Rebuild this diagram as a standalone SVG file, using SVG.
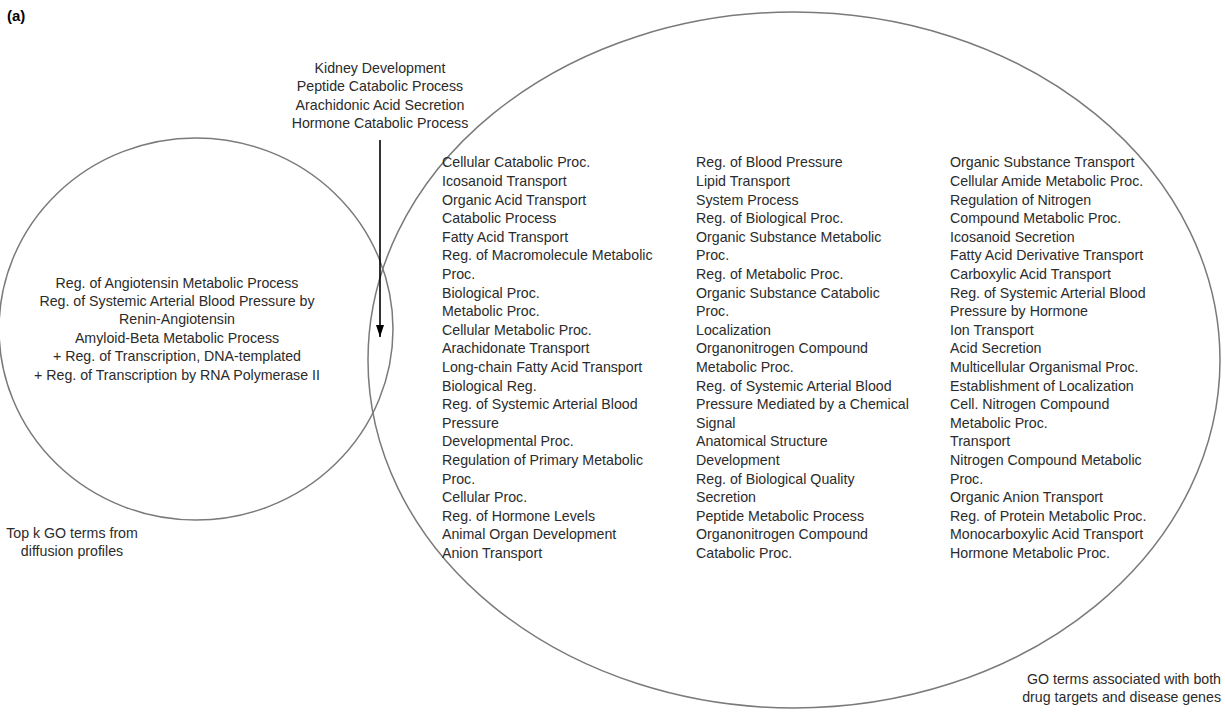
<svg xmlns="http://www.w3.org/2000/svg" width="1225" height="713" viewBox="0 0 1225 713">
<style>
text{font-family:"Liberation Sans",Arial,sans-serif;font-size:14.2px;fill:#2b2b2b}
.c{text-anchor:middle}
.r{text-anchor:end}
.set{fill:none;stroke:#7a7a7a;stroke-width:1.5}
</style>
<defs>
<marker id="ah" viewBox="0 0 12 8" refX="12" refY="4" markerWidth="12" markerHeight="8" markerUnits="userSpaceOnUse" orient="auto">
<path d="M0,0 L12,4 L0,8 z" fill="#000"/>
</marker>
</defs>
<rect width="1225" height="713" fill="#fff"/>
<text x="7" y="21" style="font-weight:bold;font-size:15px;fill:#000">(a)</text>
<g id="set-diffusion">
<ellipse class="set" cx="196" cy="329" rx="197" ry="191"/>
<text class="c" x="177"><tspan x="177" y="287.5">Reg. of Angiotensin Metabolic Process</tspan><tspan x="177" y="305.9">Reg. of Systemic Arterial Blood Pressure by</tspan><tspan x="177" y="324.3">Renin-Angiotensin</tspan><tspan x="177" y="342.7">Amyloid-Beta Metabolic Process</tspan><tspan x="177" y="361.1">+ Reg. of Transcription, DNA-templated</tspan><tspan x="177" y="379.5">+ Reg. of Transcription by RNA Polymerase II</tspan></text>
<text class="c" x="72"><tspan x="72" y="538">Top k GO terms from</tspan><tspan x="72" y="556">diffusion profiles</tspan></text>
</g>
<g id="set-targets">
<ellipse class="set" cx="794" cy="360" rx="426" ry="348"/>
<text x="442"><tspan x="442" y="167.4">Cellular Catabolic Proc.</tspan><tspan x="442" y="186">Icosanoid Transport</tspan><tspan x="442" y="204.6">Organic Acid Transport</tspan><tspan x="442" y="223.2">Catabolic Process</tspan><tspan x="442" y="241.8">Fatty Acid Transport</tspan><tspan x="442" y="260.4">Reg. of Macromolecule Metabolic</tspan><tspan x="442" y="279">Proc.</tspan><tspan x="442" y="297.6">Biological Proc.</tspan><tspan x="442" y="316.2">Metabolic Proc.</tspan><tspan x="442" y="334.8">Cellular Metabolic Proc.</tspan><tspan x="442" y="353.4">Arachidonate Transport</tspan><tspan x="442" y="372">Long-chain Fatty Acid Transport</tspan><tspan x="442" y="390.6">Biological Reg.</tspan><tspan x="442" y="409.2">Reg. of Systemic Arterial Blood</tspan><tspan x="442" y="427.8">Pressure</tspan><tspan x="442" y="446.4">Developmental Proc.</tspan><tspan x="442" y="465">Regulation of Primary Metabolic</tspan><tspan x="442" y="483.6">Proc.</tspan><tspan x="442" y="502.2">Cellular Proc.</tspan><tspan x="442" y="520.8">Reg. of Hormone Levels</tspan><tspan x="442" y="539.4">Animal Organ Development</tspan><tspan x="442" y="558">Anion Transport</tspan></text>
<text x="696"><tspan x="696" y="167.4">Reg. of Blood Pressure</tspan><tspan x="696" y="186">Lipid Transport</tspan><tspan x="696" y="204.6">System Process</tspan><tspan x="696" y="223.2">Reg. of Biological Proc.</tspan><tspan x="696" y="241.8">Organic Substance Metabolic</tspan><tspan x="696" y="260.4">Proc.</tspan><tspan x="696" y="279">Reg. of Metabolic Proc.</tspan><tspan x="696" y="297.6">Organic Substance Catabolic</tspan><tspan x="696" y="316.2">Proc.</tspan><tspan x="696" y="334.8">Localization</tspan><tspan x="696" y="353.4">Organonitrogen Compound</tspan><tspan x="696" y="372">Metabolic Proc.</tspan><tspan x="696" y="390.6">Reg. of Systemic Arterial Blood</tspan><tspan x="696" y="409.2">Pressure Mediated by a Chemical</tspan><tspan x="696" y="427.8">Signal</tspan><tspan x="696" y="446.4">Anatomical Structure</tspan><tspan x="696" y="465">Development</tspan><tspan x="696" y="483.6">Reg. of Biological Quality</tspan><tspan x="696" y="502.2">Secretion</tspan><tspan x="696" y="520.8">Peptide Metabolic Process</tspan><tspan x="696" y="539.4">Organonitrogen Compound</tspan><tspan x="696" y="558">Catabolic Proc.</tspan></text>
<text x="950"><tspan x="950" y="167.4">Organic Substance Transport</tspan><tspan x="950" y="186">Cellular Amide Metabolic Proc.</tspan><tspan x="950" y="204.6">Regulation of Nitrogen</tspan><tspan x="950" y="223.2">Compound Metabolic Proc.</tspan><tspan x="950" y="241.8">Icosanoid Secretion</tspan><tspan x="950" y="260.4">Fatty Acid Derivative Transport</tspan><tspan x="950" y="279">Carboxylic Acid Transport</tspan><tspan x="950" y="297.6">Reg. of Systemic Arterial Blood</tspan><tspan x="950" y="316.2">Pressure by Hormone</tspan><tspan x="950" y="334.8">Ion Transport</tspan><tspan x="950" y="353.4">Acid Secretion</tspan><tspan x="950" y="372">Multicellular Organismal Proc.</tspan><tspan x="950" y="390.6">Establishment of Localization</tspan><tspan x="950" y="409.2">Cell. Nitrogen Compound</tspan><tspan x="950" y="427.8">Metabolic Proc.</tspan><tspan x="950" y="446.4">Transport</tspan><tspan x="950" y="465">Nitrogen Compound Metabolic</tspan><tspan x="950" y="483.6">Proc.</tspan><tspan x="950" y="502.2">Organic Anion Transport</tspan><tspan x="950" y="520.8">Reg. of Protein Metabolic Proc.</tspan><tspan x="950" y="539.4">Monocarboxylic Acid Transport</tspan><tspan x="950" y="558">Hormone Metabolic Proc.</tspan></text>
<text class="r" x="1221"><tspan x="1221" y="684">GO terms associated with both</tspan><tspan x="1221" y="702">drug targets and disease genes</tspan></text>
</g>
<g id="set-extra">
<text class="c" x="380"><tspan x="380" y="72.5">Kidney Development</tspan><tspan x="380" y="91.1">Peptide Catabolic Process</tspan><tspan x="380" y="109.7">Arachidonic Acid Secretion</tspan><tspan x="380" y="128.3">Hormone Catabolic Process</tspan></text>
</g>
<g id="connectors">
<line x1="380" y1="140" x2="380" y2="337" stroke="#000" stroke-width="1.6" marker-end="url(#ah)"/>
</g>
</svg>
